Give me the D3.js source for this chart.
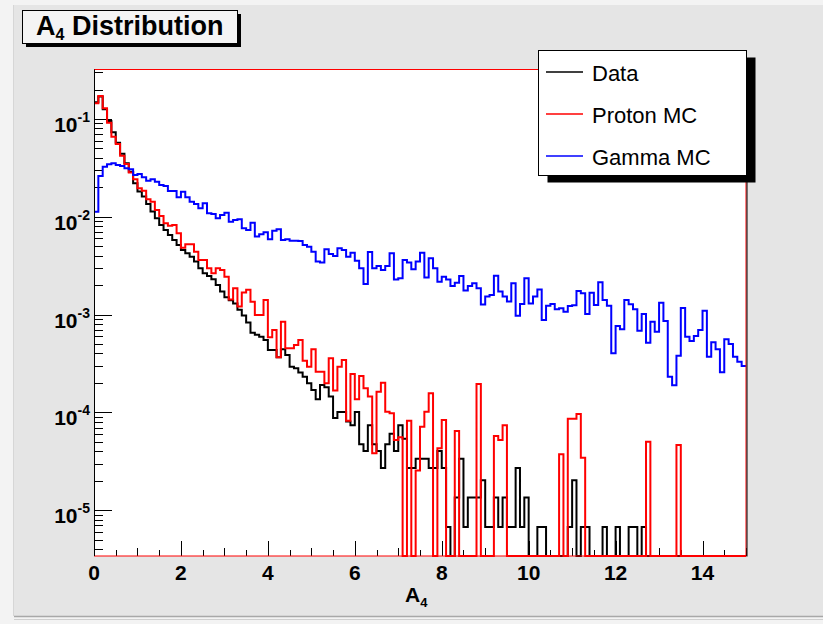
<!DOCTYPE html>
<html><head><meta charset="utf-8">
<script src="https://cdn.jsdelivr.net/npm/d3@7"></script>
<style>
body{margin:0;background:#f3f3f3}
svg{display:block}
text{font-family:"Liberation Sans",Arial,Helvetica,sans-serif}
</style>
</head><body>
<svg id="chart" width="823" height="624"></svg>
<script>
// ---- histogram binning (category axis) ----
const xMin = 0, xMax = 15, nBins = 150;
const xTickLabels = [0, 2, 4, 6, 8, 10, 12, 14];
const yTickExponents = [-1, -2, -3, -4, -5];
const seriesNames = ["Data", "Proton MC", "Gamma MC"];
const seriesColors = ["#000000", "#ff0000", "#0000ff"];

// ---- Data (black) ----
const dataCountUnit = 6.73e-6;
const dataHigh = [
  0.148, 0.170, 0.126, 0.0954, 0.0731, 0.0573, 0.0440, 0.0352, 0.0289, 0.0220,
  0.0181, 0.0161, 0.0135, 0.0113, 0.00966, 0.00824, 0.00733, 0.00652, 0.00579, 0.00515,
  0.00458, 0.00424, 0.00391, 0.00348, 0.00297, 0.00264, 0.00248, 0.00230, 0.00201, 0.00172,
  0.00150, 0.00140, 0.00130, 0.00112, 0.00098, 0.00083, 0.000653, 0.000623, 0.000594, 0.000550,
  0.000434, 0.000434, 0.000366, 0.000442, 0.000386, 0.000293, 0.000282, 0.000255, 0.000232, 0.000199,
  0.000169, 0.000136, 0.000190, 0.000181, 0.000145
];
// bins 55..149 as event counts
const dataTailCounts = [
  13, 15, 15, 12, 11, 15, 7, 6, 11, 7,
  6, 4, 7, 9, 6, 11, 8, 4, 4, 5,
  5, 5, 4, 4, 6, 4, 1, 0, 2, 5,
  1, 2, 2, 2, 3, 1, 1, 2, 1, 2,
  1, 1, 4, 1, 2, 0, 0, 1, 1, 0,
  0, 0, 0, 0, 1, 3, 0, 1, 1, 0,
  0, 0, 1, 0, 0, 1, 0, 0, 1, 1,
  0, 1, 0, 0, 0, 0, 0, 0, 0, 0,
  0, 0, 0, 0, 0, 0, 0, 0, 0, 0,
  0, 0, 0, 0, 0
];
const dataValues = dataHigh.concat(dataTailCounts.map(c => c * dataCountUnit));

// ---- Proton MC (red) ----
const protonValues = [
  0.1449, 0.172, 0.1285, 0.0917, 0.0659, 0.0555, 0.0420, 0.0347, 0.0283, 0.0242,
  0.01954, 0.01849, 0.01510, 0.01426, 0.01175, 0.01019, 0.00859, 0.00811, 0.00824, 0.00678,
  0.00483, 0.00524, 0.00524, 0.00440, 0.00361, 0.00361, 0.00297, 0.00264, 0.00297, 0.00286,
  0.00244, 0.00143, 0.00186, 0.00121, 0.00168, 0.00179, 0.001355, 0.000991, 0.000991, 0.001409,
  0.000586, 0.000697, 0.000366, 0.000846, 0.000452, 0.000452, 0.000489, 0.000550, 0.000338, 0.000293,
  0.000442, 0.000261, 0.000261, 0.000198, 0.000357, 0.000167, 0.000293, 0.000344, 0.0000822, 0.000247,
  0.000136, 0.000236, 0.000176, 0.000145, 0.0000382, 0.000163, 0.000201, 0.0001016, 0.0000979, 0.0000522,
  0.0000556, 0, 0.0000822, 0, 0.0000254, 0.0000715, 0.0001016, 0.000157, 0, 0.0000430,
  0.0000836, 0, 0, 0.0000646, 0, 0, 0, 0, 0.000195, 0,
  0, 0, 0.0000574, 0.0000522, 0.0000738, 0, 0, 0, 0, 0,
  0, 0, 0, 0, 0, 0, 0, 0.0000373, 0, 0.0000863,
  0.0000863, 0.0000964, 0.0000344, 0, 0, 0, 0, 0, 0, 0,
  0, 0, 0, 0, 0, 0, 0, 0.0000501, 0, 0,
  0, 0, 0, 0, 0.0000464, 0, 0, 0, 0, 0,
  0, 0, 0, 0, 0, 0, 0, 0, 0, 0
];

// ---- Gamma MC (blue) ----
const gammaValues = [
  0.01127, 0.02612, 0.03251, 0.03443, 0.03524, 0.03388, 0.03306, 0.03133, 0.03061, 0.02675,
  0.02741, 0.02535, 0.02340, 0.02417, 0.02285, 0.02113, 0.02065, 0.01835, 0.01835, 0.01583,
  0.01806, 0.01583, 0.01426, 0.01352, 0.01222, 0.01375, 0.01086, 0.01069, 0.00966, 0.01043,
  0.01101, 0.00891, 0.00927, 0.00942, 0.00762, 0.00733, 0.00871, 0.00627, 0.00663, 0.00695,
  0.00589, 0.00721, 0.00745, 0.00579, 0.00589, 0.00570, 0.00570, 0.00566, 0.00515, 0.00495,
  0.00440, 0.00348, 0.00340, 0.00465, 0.00417, 0.00397, 0.00476, 0.00458, 0.00391, 0.00430,
  0.00356, 0.00297, 0.00206, 0.00437, 0.00297, 0.00314, 0.00286, 0.00314, 0.00423, 0.00229,
  0.00235, 0.00362, 0.00340, 0.00290, 0.00348, 0.00430, 0.00240, 0.00376, 0.00297, 0.00217,
  0.00244, 0.00229, 0.00196, 0.00212, 0.00248, 0.00176, 0.00196, 0.00209, 0.00186, 0.00127,
  0.00153, 0.00159, 0.00250, 0.00172, 0.00153, 0.00136, 0.00209, 0.000975, 0.00128, 0.00235,
  0.00130, 0.00153, 0.00181, 0.000881, 0.00123, 0.00128, 0.001132, 0.001159, 0.001072, 0.001225,
  0.001244, 0.001743, 0.001650, 0.001014, 0.001676, 0.001253, 0.002137, 0.001410, 0.001234, 0.000402,
  0.000765, 0.000707, 0.001410, 0.001274, 0.001132, 0.000685, 0.001014, 0.000516, 0.000847, 0.000669,
  0.001324, 0.000860, 0.000232, 0.000189, 0.000380, 0.001168, 0.000595, 0.000537, 0.000604, 0.000696,
  0.001097, 0.000371, 0.000520, 0.000441, 0.000257, 0.000559, 0.000500, 0.000371, 0.000330, 0.000298
];

// ---- drawing ----
const W = 823, H = 624;
const frame = {x0: 94, x1: 746, y0: 69.5, y1: 556};
const yMin = 3.4e-6, yMax = 0.3206;

const svg = d3.select("#chart");
const x = d3.scaleLinear().domain([xMin, xMax]).range([frame.x0, frame.x1]);
const y = d3.scaleLog().domain([yMin, yMax]).range([frame.y1, frame.y0]);
const binWidth = (xMax - xMin) / nBins;

// canvas / pad
svg.append("rect").attr("x", 0).attr("y", 0).attr("width", W).attr("height", H).attr("fill", "#f3f3f3");
svg.append("rect").attr("x", 14).attr("y", 5).attr("width", W - 14).attr("height", 611).attr("fill", "#e5e5e5");
svg.append("line").attr("x1", 14).attr("x2", W).attr("y1", 616.5).attr("y2", 616.5).attr("stroke", "#a8a8a8").attr("stroke-width", 1.5);
svg.append("line").attr("x1", 14).attr("x2", W).attr("y1", 619.5).attr("y2", 619.5).attr("stroke", "#cfcfcf").attr("stroke-width", 1);
svg.append("line").attr("x1", 13.5).attr("x2", 13.5).attr("y1", 5).attr("y2", 616).attr("stroke", "#d6d6d6").attr("stroke-width", 1);

// frame
svg.append("rect").attr("x", frame.x0).attr("y", frame.y0)
  .attr("width", frame.x1 - frame.x0).attr("height", frame.y1 - frame.y0)
  .attr("fill", "#ffffff");

// y ticks
const g = svg.append("g");
const majorY = yTickExponents.map(e => Math.pow(10, e));
const minorY = [];
for (let e = -6; e <= 0; e++) {
  for (let k = 2; k <= 9; k++) {
    const v = k * Math.pow(10, e);
    if (v >= yMin && v <= yMax) minorY.push(v);
  }
}
g.selectAll(".ymaj").data(majorY).join("line")
  .attr("x1", frame.x0).attr("x2", frame.x0 + 18)
  .attr("y1", d => Math.round(y(d)) + 0.5).attr("y2", d => Math.round(y(d)) + 0.5)
  .attr("stroke", "#000").attr("stroke-width", 1);
g.selectAll(".ymin").data(minorY).join("line")
  .attr("x1", frame.x0).attr("x2", frame.x0 + 9)
  .attr("y1", d => Math.round(y(d)) + 0.5).attr("y2", d => Math.round(y(d)) + 0.5)
  .attr("stroke", "#000").attr("stroke-width", 1);

// x ticks
const xTicksAll = d3.range(0, 15.01, 0.5);
g.selectAll(".xt").data(xTicksAll).join("line")
  .attr("x1", d => Math.round(x(d)) + 0.5).attr("x2", d => Math.round(x(d)) + 0.5)
  .attr("y1", frame.y1)
  .attr("y2", d => frame.y1 - (d % 2 === 0 ? 15 : (d % 1 === 0 ? 8 : 6)))
  .attr("stroke", "#000").attr("stroke-width", 1);

// histograms
function stepPath(values) {
  const pts = [];
  const clamp = v => (v > yMin ? Math.min(v, yMax) : yMin);
  values.forEach((v, i) => {
    const lo = xMin + i * binWidth, hi = lo + binWidth;
    pts.push([x(lo), y(clamp(v))]);
    pts.push([x(hi), y(clamp(v))]);
  });
  return d3.line()(pts);
}
const allSeries = [dataValues, protonValues, gammaValues];
allSeries.forEach((vals, i) => {
  svg.append("path").attr("d", stepPath(vals))
    .attr("fill", "none").attr("stroke", seriesColors[i])
    .attr("stroke-width", 2).attr("stroke-linejoin", "miter");
});

// frame border
svg.append("rect").attr("x", frame.x0 + 0.5).attr("y", frame.y0)
  .attr("width", frame.x1 - frame.x0 - 0.5).attr("height", frame.y1 - frame.y0)
  .attr("fill", "none").attr("stroke", "#ff0000").attr("stroke-width", 1);
svg.append("line").attr("x1", frame.x0 + 0.5).attr("x2", frame.x0 + 0.5)
  .attr("y1", frame.y0).attr("y2", frame.y1).attr("stroke", "#000").attr("stroke-width", 1);
svg.append("line").attr("x1", frame.x1 + 1).attr("x2", frame.x1 + 1)
  .attr("y1", frame.y0).attr("y2", frame.y1 + 0.5).attr("stroke", "#000").attr("stroke-width", 1);

// y tick labels
const yl = svg.append("g").attr("font-weight", "bold").attr("fill", "#000");
yTickExponents.forEach(e => {
  const t = yl.append("text").attr("x", 90).attr("y", y(Math.pow(10, e)) + 13)
    .attr("text-anchor", "end").attr("font-size", 21);
  t.append("tspan").text("10");
  t.append("tspan").attr("font-size", 14).attr("dy", -10).text("-" + Math.abs(e));
});

// x tick labels
svg.append("g").selectAll("text").data(xTickLabels).join("text")
  .attr("x", d => x(d)).attr("y", 580).attr("text-anchor", "middle")
  .attr("font-size", 21).attr("font-weight", "bold").text(d => d);

// x title
const xt = svg.append("text").attr("x", 405).attr("y", 602).attr("font-size", 21).attr("font-weight", "bold");
xt.append("tspan").text("A");
xt.append("tspan").attr("font-size", 13).attr("dy", 5).text("4");

// title box
svg.append("rect").attr("x", 26).attr("y", 14).attr("width", 215).attr("height", 33).attr("fill", "#000");
svg.append("rect").attr("x", 22.5).attr("y", 10.5).attr("width", 215).attr("height", 33)
  .attr("fill", "#f4f4f4").attr("stroke", "#000").attr("stroke-width", 1);
const tt = svg.append("text").attr("x", 36).attr("y", 35).attr("font-size", 27).attr("font-weight", "bold");
tt.append("tspan").text("A");
tt.append("tspan").attr("font-size", 16).attr("dy", 5).text("4");
tt.append("tspan").attr("dy", -5).text(" Distribution");

// legend
const lg = {x: 538.5, y: 50.5, w: 208, h: 125};
svg.append("rect").attr("x", lg.x + 9).attr("y", lg.y + 7).attr("width", lg.w).attr("height", lg.h).attr("fill", "#000");
svg.append("rect").attr("x", lg.x).attr("y", lg.y).attr("width", lg.w).attr("height", lg.h)
  .attr("fill", "#fff").attr("stroke", "#000").attr("stroke-width", 1);
const legY = [72, 114, 156];
seriesNames.forEach((name, i) => {
  svg.append("line").attr("x1", 546).attr("x2", 583).attr("y1", legY[i]).attr("y2", legY[i])
    .attr("stroke", seriesColors[i]).attr("stroke-width", 1.5);
  svg.append("text").attr("x", 592).attr("y", legY[i] + 8.5).attr("font-size", 22)
    .attr("fill", "#000").text(name);
});
</script>
</body></html>
